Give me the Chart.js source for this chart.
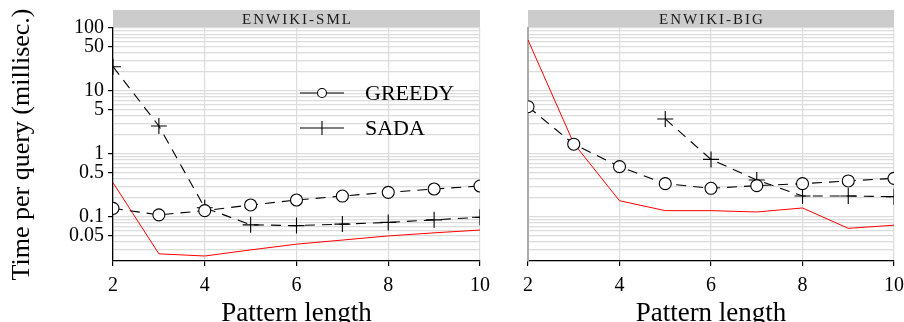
<!DOCTYPE html>
<html>
<head>
<meta charset="utf-8">
<script src="https://cdn.jsdelivr.net/npm/chart.js@4"></script>
<style>
  body { margin: 0; background: #fff; }
  #wrap { position: relative; width: 904px; height: 322px; }
  canvas { position: absolute; top: 0; }
</style>
</head>
<body>
<div id="wrap">
  <canvas id="left" width="490" height="322" style="left:0"></canvas>
  <canvas id="right" width="414" height="322" style="left:490px"></canvas>
</div>
<script>
const patternLength = [2, 3, 4, 5, 6, 7, 8, 9, 10];
const yLabelValues = [100, 50, 10, 5, 1, 0.5, 0.1, 0.05];

// ENWIKI-SML
const smlGreedy = [0.137, 0.108, 0.126, 0.155, 0.186, 0.215, 0.246, 0.278, 0.31];
const smlSada = [24.3, 2.78, 0.14, 0.075, 0.073, 0.077, 0.082, 0.09, 0.099];
const smlRed = [0.35, 0.026, 0.024, 0.030, 0.037, 0.043, 0.050, 0.056, 0.062];

// ENWIKI-BIG
const bigGreedy = [5.63, 1.43, 0.63, 0.338, 0.285, 0.314, 0.338, 0.373, 0.41];
const bigSada = [null, null, null, 3.6, 0.82, 0.387, 0.215, 0.215, 0.21];
const bigRed = [64.5, 1.47, 0.181, 0.126, 0.126, 0.12, 0.139, 0.066, 0.074];

const SERIF = '"Liberation Serif", "DejaVu Serif", serif';
Chart.defaults.font.family = SERIF;
Chart.defaults.color = "#000";

function pts(vals) {
  return patternLength.map((x, i) => ({ x: x, y: vals[i] }));
}

// strip header above each panel
const stripPlugin = {
  id: "strip",
  beforeDraw(chart, args, opts) {
    const c = chart.ctx, a = chart.chartArea;
    c.save();
    c.fillStyle = "#cccccc";
    c.fillRect(a.left, 10, a.right - a.left, 18);
    c.fillStyle = "#1a1a1a";
    c.font = "15px " + SERIF;
    c.letterSpacing = "2px";
    c.textAlign = "center";
    c.textBaseline = "middle";
    c.fillText(opts.text, (a.left + a.right) / 2 + 1, 20);
    c.restore();
  }
};

// legend inside the left panel
const legendPlugin = {
  id: "inlegend",
  afterDatasetsDraw(chart, args, opts) {
    if (!opts.show) return;
    const c = chart.ctx;
    c.save();
    c.strokeStyle = "#000";
    c.lineWidth = 1.1;
    const rows = [["GREEDY", 93, "circle"], ["SADA", 128, "cross"]];
    rows.forEach(([name, y, shape]) => {
      c.beginPath();
      c.moveTo(300, y); c.lineTo(344, y);
      c.stroke();
      if (shape === "circle") {
        c.beginPath();
        c.arc(322, y, 4.5, 0, Math.PI * 2);
        c.fillStyle = "#fff";
        c.fill();
        c.stroke();
      } else {
        c.beginPath();
        c.moveTo(322, y - 7); c.lineTo(322, y + 7);
        c.stroke();
      }
      c.fillStyle = "#000";
      c.font = "22px " + SERIF;
      c.textBaseline = "middle";
      c.fillText(name, 365, y + 1);
    });
    c.restore();
  }
};

function makeChart(id, title, greedy, sada, red, isLeft) {
  return new Chart(document.getElementById(id), {
    type: "line",
    data: {
      datasets: [
        {
          label: "GREEDY", data: pts(greedy), order: 1,
          borderColor: "#000", borderWidth: 1.1, borderDash: [10, 7],
          pointStyle: "circle", pointRadius: 6, pointBorderWidth: 1.1,
          pointBackgroundColor: "#fff", pointBorderColor: "#000", clip: 0
        },
        {
          label: "SADA", data: pts(sada), order: 2,
          borderColor: "#000", borderWidth: 1.1, borderDash: [10, 7],
          pointStyle: "cross", pointRadius: 8, pointBorderWidth: 1.1,
          pointBorderColor: "#000", clip: 0
        },
        {
          label: "", data: pts(red), order: 3,
          borderColor: "#ff0000", borderWidth: 1, pointRadius: 0, clip: 0
        }
      ]
    },
    options: {
      responsive: false,
      animation: false,
      layout: { padding: { top: 28, right: 10, left: 0, bottom: 0 } },
      scales: {
        x: {
          type: "linear", min: 2, max: 10,
          ticks: { stepSize: 2, font: { size: 20 }, padding: 8, color: "#000" },
          grid: { color: "#dcdcdc", lineWidth: 1.2, tickColor: "#000", tickLength: 5 },
          border: { color: "#000", width: 1.3 },
          title: { display: true, text: "Pattern length", font: { size: 27 }, padding: { top: 0, bottom: -8 }, color: "#000" },
          afterFit(s) { s.height = 61; s.paddingRight = 0; s.paddingLeft = 0; }
        },
        y: {
          type: "logarithmic", min: 0.02, max: 100,
          afterBuildTicks(s) {
            const t = [];
            for (let k = -2; k <= 2; k++) {
              for (let m = 1; m <= 9; m++) {
                const v = +(m * Math.pow(10, k)).toPrecision(3);
                if (v >= 0.02 && v <= 100) t.push({ value: v });
              }
            }
            s.ticks = t;
          },
          ticks: {
            display: isLeft, autoSkip: false, font: { size: 20 }, padding: 4, color: "#000",
            callback: v => yLabelValues.includes(v) ? String(v) : ""
          },
          grid: {
            color: "#dcdcdc", lineWidth: 1.2, tickLength: isLeft ? 5 : 0,
            tickColor: ctx => (isLeft && yLabelValues.includes(ctx.tick.value)) ? "#000" : "rgba(0,0,0,0)"
          },
          border: { color: isLeft ? "#000" : "#aaaaaa", width: isLeft ? 1.3 : 2 },
          title: { display: isLeft, text: "Time per query (millisec.)", font: { size: 26 }, padding: { top: 7, bottom: 0 }, color: "#000" },
          afterFit(s) { s.width = isLeft ? 113 : 38; }
        }
      },
      plugins: {
        legend: { display: false },
        tooltip: { enabled: false },
        strip: { text: title },
        inlegend: { show: isLeft }
      }
    },
    plugins: [stripPlugin, legendPlugin]
  });
}

makeChart("left", "ENWIKI-SML", smlGreedy, smlSada, smlRed, true);
makeChart("right", "ENWIKI-BIG", bigGreedy, bigSada, bigRed, false);
</script>
</body>
</html>
